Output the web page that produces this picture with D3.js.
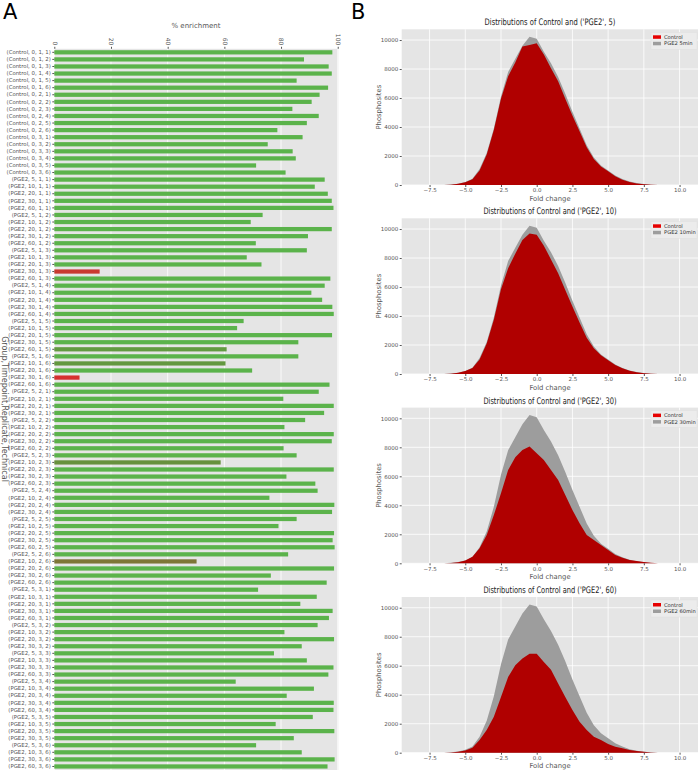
<!DOCTYPE html>
<html>
<head>
<meta charset="utf-8">
<script src="https://cdn.jsdelivr.net/npm/d3@7"></script>
<style>
  body { margin: 0; background: #fff; }
  text { font-family: "DejaVu Sans", sans-serif; }
</style>
</head>
<body>
<svg id="fig" width="699" height="770"></svg>
<script>
// panel A data
let categories = [
  "(Control, 0, 1, 1)", "(Control, 0, 1, 2)", "(Control, 0, 1, 3)", "(Control, 0, 1, 4)", "(Control, 0, 1, 5)", "(Control, 0, 1, 6)",
  "(Control, 0, 2, 1)", "(Control, 0, 2, 2)", "(Control, 0, 2, 3)", "(Control, 0, 2, 4)", "(Control, 0, 2, 5)", "(Control, 0, 2, 6)",
  "(Control, 0, 3, 1)", "(Control, 0, 3, 2)", "(Control, 0, 3, 3)", "(Control, 0, 3, 4)", "(Control, 0, 3, 5)", "(Control, 0, 3, 6)",
  "(PGE2, 5, 1, 1)", "(PGE2, 10, 1, 1)", "(PGE2, 20, 1, 1)", "(PGE2, 30, 1, 1)", "(PGE2, 60, 1, 1)",
  "(PGE2, 5, 1, 2)", "(PGE2, 10, 1, 2)", "(PGE2, 20, 1, 2)", "(PGE2, 30, 1, 2)", "(PGE2, 60, 1, 2)",
  "(PGE2, 5, 1, 3)", "(PGE2, 10, 1, 3)", "(PGE2, 20, 1, 3)", "(PGE2, 30, 1, 3)", "(PGE2, 60, 1, 3)",
  "(PGE2, 5, 1, 4)", "(PGE2, 10, 1, 4)", "(PGE2, 20, 1, 4)", "(PGE2, 30, 1, 4)", "(PGE2, 60, 1, 4)",
  "(PGE2, 5, 1, 5)", "(PGE2, 10, 1, 5)", "(PGE2, 20, 1, 5)", "(PGE2, 30, 1, 5)", "(PGE2, 60, 1, 5)",
  "(PGE2, 5, 1, 6)", "(PGE2, 10, 1, 6)", "(PGE2, 20, 1, 6)", "(PGE2, 30, 1, 6)", "(PGE2, 60, 1, 6)",
  "(PGE2, 5, 2, 1)", "(PGE2, 10, 2, 1)", "(PGE2, 20, 2, 1)", "(PGE2, 30, 2, 1)",
  "(PGE2, 5, 2, 2)", "(PGE2, 10, 2, 2)", "(PGE2, 20, 2, 2)", "(PGE2, 30, 2, 2)", "(PGE2, 60, 2, 2)",
  "(PGE2, 5, 2, 3)", "(PGE2, 10, 2, 3)", "(PGE2, 20, 2, 3)", "(PGE2, 30, 2, 3)", "(PGE2, 60, 2, 3)",
  "(PGE2, 5, 2, 4)", "(PGE2, 10, 2, 4)", "(PGE2, 20, 2, 4)", "(PGE2, 30, 2, 4)",
  "(PGE2, 5, 2, 5)", "(PGE2, 10, 2, 5)", "(PGE2, 20, 2, 5)", "(PGE2, 30, 2, 5)", "(PGE2, 60, 2, 5)",
  "(PGE2, 5, 2, 6)", "(PGE2, 10, 2, 6)", "(PGE2, 20, 2, 6)", "(PGE2, 30, 2, 6)", "(PGE2, 60, 2, 6)",
  "(PGE2, 5, 3, 1)", "(PGE2, 10, 3, 1)", "(PGE2, 20, 3, 1)", "(PGE2, 30, 3, 1)", "(PGE2, 60, 3, 1)",
  "(PGE2, 5, 3, 2)", "(PGE2, 10, 3, 2)", "(PGE2, 20, 3, 2)", "(PGE2, 30, 3, 2)",
  "(PGE2, 5, 3, 3)", "(PGE2, 10, 3, 3)", "(PGE2, 30, 3, 3)", "(PGE2, 60, 3, 3)",
  "(PGE2, 5, 3, 4)", "(PGE2, 10, 3, 4)", "(PGE2, 20, 3, 4)", "(PGE2, 30, 3, 4)", "(PGE2, 60, 3, 4)",
  "(PGE2, 5, 3, 5)", "(PGE2, 10, 3, 5)", "(PGE2, 20, 3, 5)", "(PGE2, 30, 3, 5)",
  "(PGE2, 5, 3, 6)", "(PGE2, 10, 3, 6)", "(PGE2, 30, 3, 6)", "(PGE2, 60, 3, 6)"
]
let enrichment = [
  98.1, 88.1, 96.8, 97.9, 85.5, 96.6,
  93.6, 90.8, 84.0, 93.3, 89.1, 78.7,
  87.6, 75.3, 84.1, 85.2, 71.2, 81.6,
  95.4, 91.9, 96.5, 97.9, 98.5,
  73.5, 69.3, 97.9, 89.5, 71.1,
  89.1, 67.9, 73.1, 16.0, 97.4,
  95.4, 90.7, 94.5, 98.1, 98.6,
  66.8, 64.5, 98.0, 86.1, 60.8,
  86.1, 60.4, 69.8, 8.9, 97.1,
  93.3, 80.8, 98.6, 95.2,
  88.5, 81.2, 98.6, 97.9, 80.9,
  85.5, 58.7, 98.6, 81.9, 92.1,
  92.9, 75.9, 98.8, 98.0,
  85.5, 79.1, 98.7, 98.2, 98.9,
  82.5, 50.2, 98.7, 76.4, 96.1,
  71.9, 92.6, 86.8, 98.2, 96.9,
  92.9, 81.2, 98.7, 87.3,
  77.5, 89.1, 98.5, 96.7,
  64.0, 91.6, 82.0, 98.6, 98.5,
  91.2, 78.1, 98.8, 84.5,
  71.2, 87.3, 98.9, 96.4
]
let enrichTicks = [0, 20, 40, 60, 80, 100]

// panel B data
let foldChange = [-6.5, -6, -5.5, -5, -4.5, -4, -3.5, -3, -2.5, -2, -1.5, -1, -0.5, 0,
  0.5, 1, 1.5, 2, 2.5, 3, 3.5, 4, 4.5, 5, 5.5, 6, 6.5, 7, 7.5, 8, 8.5]
let control5 = [0, 20, 80, 190, 400, 1000, 2100, 3800, 5950, 7500, 8450, 9550, 9650, 9780,
  9000, 8050, 7150, 5950, 4800, 3700, 2600, 1800, 1280, 940, 600, 370, 200, 110, 55, 20, 0]
let control10 = [0, 20, 80, 200, 420, 1000, 2100, 3750, 5850, 7300, 8300, 9250, 9700, 9600,
  8850, 7900, 6950, 5800, 4650, 3550, 2500, 1780, 1300, 950, 620, 390, 220, 120, 60, 20, 0]
let control30 = [0, 20, 80, 200, 460, 1030, 1950, 3330, 4830, 6440, 7310, 7820, 8050, 7590,
  7130, 6440, 5750, 4710, 3680, 2760, 1950, 1610, 1260, 920, 575, 390, 230, 160, 90, 30, 0]
let control60 = [0, 20, 70, 150, 350, 870, 1560, 2480, 3850, 5230, 6030, 6490, 6830, 6830,
  6260, 5730, 4770, 3850, 2940, 2130, 1560, 1100, 870, 600, 410, 300, 180, 110, 60, 20, 0]
let pge2 = [0, 30, 90, 200, 430, 1100, 2200, 3900, 6100, 7800, 8700, 9600, 10230, 10080,
  9200, 8400, 7450, 6300, 5050, 3900, 2750, 1900, 1350, 1000, 650, 420, 240, 140, 70, 25, 0]
let panelTitles = ["Distributions of Control and ('PGE2', 5)", "Distributions of Control and ('PGE2', 10)",
  "Distributions of Control and ('PGE2', 30)", "Distributions of Control and ('PGE2', 60)"]
let pge2Labels = ["PGE2 5min", "PGE2 10min", "PGE2 30min", "PGE2 60min"]
let foldTicks = [-7.5, -5, -2.5, 0, 2.5, 5, 7.5, 10]
let countTicks = [0, 2000, 4000, 6000, 8000, 10000]

let controls = [control5, control10, control30, control60]

let svg = d3.select('#fig')
let grey = '#555'

// ---------- A ----------
svg.append('text').attr('x', 3).attr('y', 19).style('font-size', '21px').text('A')

let xA = d3.scaleLinear().domain([0, 100.2]).range([54.3, 338.3])
let yA = d3.scaleBand().domain(categories).range([48.8, 770]).paddingInner(0.4).paddingOuter(0.2)

let gA = svg.append('g')
gA.append('rect')
  .attr('x', xA(0)).attr('y', 48.8)
  .attr('width', xA(100.2) - xA(0)).attr('height', 770 - 48.8)
  .style('fill', '#e5e5e5')

gA.selectAll('.gridA').data(enrichTicks).enter().append('line')
  .attr('x1', d => xA(d)).attr('x2', d => xA(d))
  .attr('y1', 48.8).attr('y2', 770)
  .style('stroke', '#fff').style('stroke-width', 0.8)

let barColor = d3.scaleLinear()
  .domain([10, 50, 60, 64])
  .range(['#d6302f', '#7e7536', '#64953f', '#5bb34b'])
  .clamp(true)

gA.selectAll('.bar').data(enrichment).enter().append('rect')
  .attr('x', xA(0))
  .attr('y', (d, i) => yA(categories[i]))
  .attr('width', d => xA(d) - xA(0))
  .attr('height', yA.bandwidth())
  .style('fill', d => barColor(d))

let axTop = gA.append('g').attr('transform', 'translate(0,48.8)')
  .call(d3.axisTop(xA).tickValues(enrichTicks).tickSize(2).tickPadding(2))
axTop.select('.domain').remove()
axTop.selectAll('line').style('stroke', grey)
axTop.selectAll('text')
  .style('font-size', '6px').style('fill', grey)
  .attr('y', 0).attr('dy', '0.35em')
  .attr('transform', 'translate(0,-3.5) rotate(90)')
  .style('text-anchor', 'end')

let axLeft = gA.append('g').attr('transform', `translate(${xA(0)},0)`)
  .call(d3.axisLeft(yA).tickSize(2).tickPadding(1.5))
axLeft.select('.domain').remove()
axLeft.selectAll('line').style('stroke', grey)
axLeft.selectAll('text').style('font-size', '5.4px').style('fill', grey)

svg.append('text').attr('x', 196).attr('y', 28)
  .style('font-size', '7px').style('fill', grey).style('text-anchor', 'middle')
  .text('% enrichment')
svg.append('text').attr('transform', 'translate(2,409) rotate(90)')
  .style('font-size', '8px').style('fill', grey).style('text-anchor', 'middle')
  .text('Group,Timepoint,Replicate,Technical')

// ---------- B ----------
svg.append('text').attr('x', 351).attr('y', 19).style('font-size', '21px').text('B')

let xB = d3.scaleLinear().domain([-9.45, 11.29]).range([401.7, 698])
let bottoms = [185, 374, 563.3, 752.7]
let plotH = 155.7

bottoms.forEach((bottom, p) => {
  let top = bottom - plotH
  let yB = d3.scaleLinear().domain([0, 10740]).range([bottom, top])
  let g = svg.append('g')

  g.append('rect')
    .attr('x', xB.range()[0]).attr('y', top)
    .attr('width', xB.range()[1] - xB.range()[0]).attr('height', plotH)
    .style('fill', '#e5e5e5')

  g.selectAll('.gx').data(foldTicks).enter().append('line')
    .attr('x1', d => xB(d)).attr('x2', d => xB(d))
    .attr('y1', top).attr('y2', bottom)
    .style('stroke', '#fff').style('stroke-width', 0.8)
  g.selectAll('.gy').data(countTicks).enter().append('line')
    .attr('x1', xB.range()[0]).attr('x2', xB.range()[1])
    .attr('y1', d => yB(d)).attr('y2', d => yB(d))
    .style('stroke', '#fff').style('stroke-width', 0.8)

  let area = d3.area()
    .x((d, i) => xB(foldChange[i]))
    .y0(yB(0))
    .y1(d => yB(d))

  g.append('path').datum(pge2).attr('d', area).style('fill', '#9d9d9d')
  g.append('path').datum(controls[p]).attr('d', area).style('fill', '#b00000')

  let ax = g.append('g').attr('transform', `translate(0,${bottom})`)
    .call(d3.axisBottom(xB).tickValues(foldTicks).tickFormat(d3.format('.1f')).tickSize(2).tickPadding(1.5))
  ax.select('.domain').remove()
  ax.selectAll('line').style('stroke', grey)
  ax.selectAll('text').style('font-size', '5.5px').style('fill', grey)

  let ay = g.append('g').attr('transform', `translate(${xB.range()[0]},0)`)
    .call(d3.axisLeft(yB).tickValues(countTicks).tickFormat(d3.format('d')).tickSize(2).tickPadding(1.5))
  ay.select('.domain').remove()
  ay.selectAll('line').style('stroke', grey)
  ay.selectAll('text').style('font-size', '5.5px').style('fill', grey)

  g.append('text').attr('x', 550).attr('y', bottom + 15.5)
    .style('font-size', '6.8px').style('fill', grey).style('text-anchor', 'middle')
    .text('Fold change')
  g.append('text').attr('transform', `translate(381,${top + plotH / 2}) rotate(-90)`)
    .style('font-size', '6.8px').style('fill', grey).style('text-anchor', 'middle')
    .text('Phosphosites')

  // title: the source figure is squeezed sideways, so narrow the text to its width
  let title = g.append('text').attr('x', 0).attr('y', 0)
    .style('font-size', '9px').style('fill', '#222').style('text-anchor', 'middle')
    .text(panelTitles[p])
  let sx = 131 / d3.max([title.node().getComputedTextLength(), 1]) * (p === 0 ? 1 : 1.02)
  title.attr('transform', `translate(550,${top - 4}) scale(${Math.min(sx, 1)},1)`)

  // legend
  let lg = g.append('g').attr('transform', `translate(651,${top + 3})`)
  lg.append('rect').attr('width', 46).attr('height', 17)
    .style('fill', '#ececec').style('stroke', '#e0e0e0').style('stroke-width', 0.5)
  let entries = [['Control', '#e60000'], [pge2Labels[p], '#9d9d9d']]
  entries.forEach((e, k) => {
    lg.append('rect').attr('x', 2).attr('y', 3 + k * 6.5).attr('width', 8).attr('height', 3.5)
      .style('fill', e[1])
    lg.append('text').attr('x', 13).attr('y', 6.6 + k * 6.5)
      .style('font-size', '5.2px').style('fill', '#333')
      .text(e[0])
  })
})
</script>
</body>
</html>
